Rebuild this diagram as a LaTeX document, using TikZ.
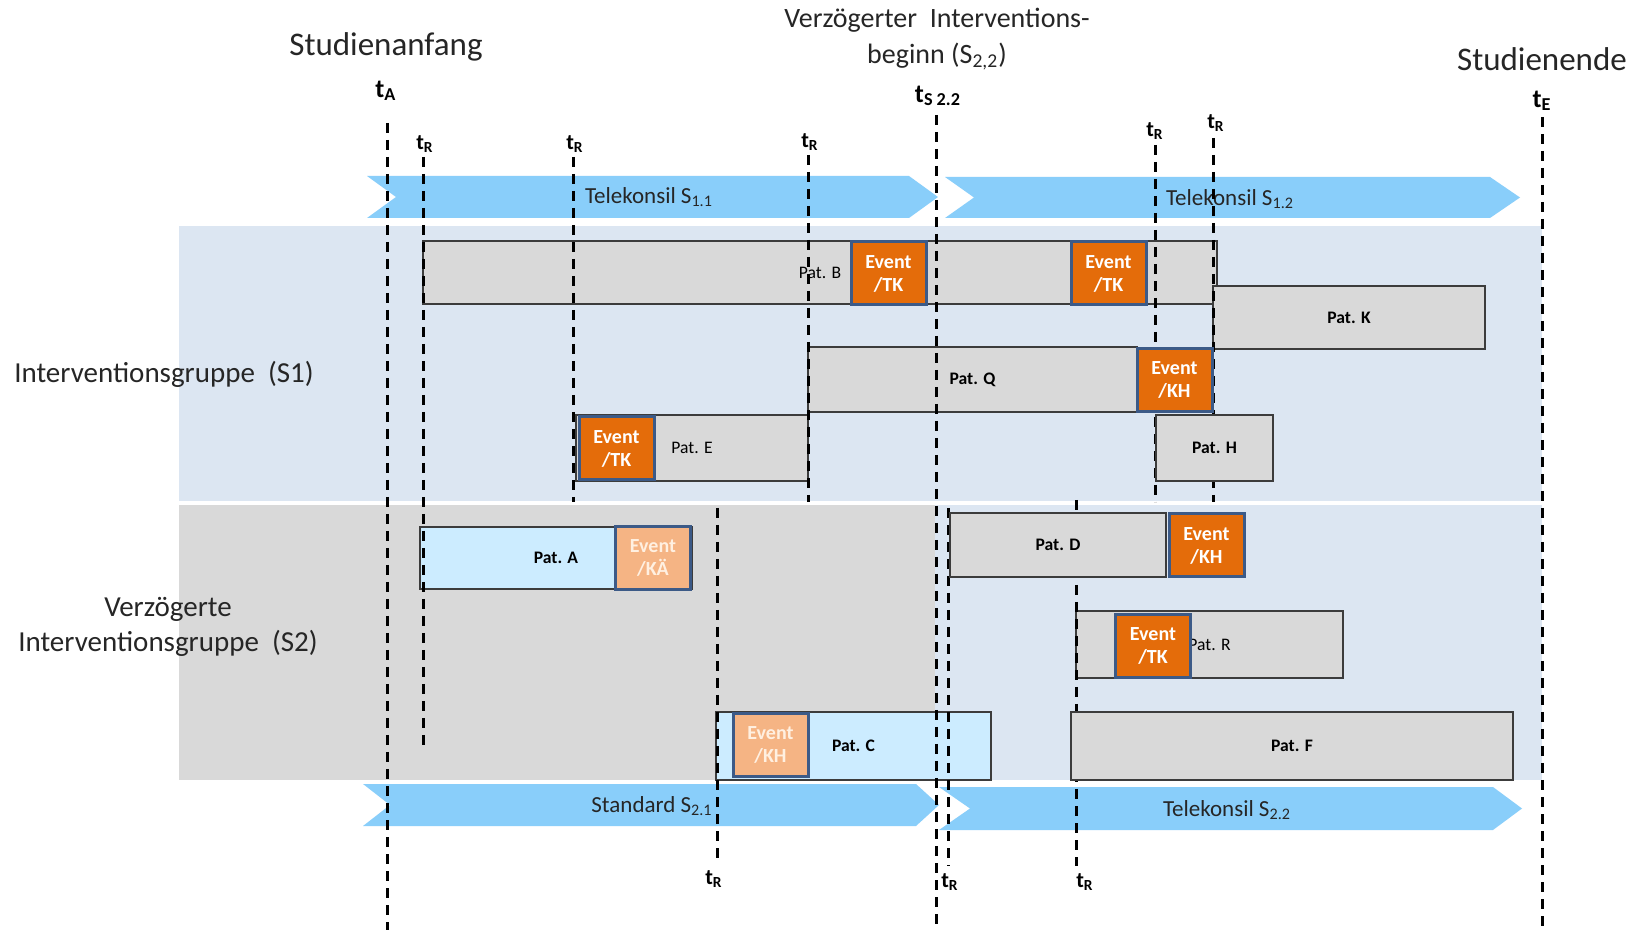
\documentclass[tikz,border=0pt]{standalone}
\usepackage{fontspec}
\setmainfont{Carlito}
\definecolor{bandblue}{RGB}{220,230,242}
\definecolor{bandgray}{RGB}{217,217,217}
\definecolor{chevblue}{RGB}{137,206,250}
\definecolor{patgray}{RGB}{217,217,217}
\definecolor{patblue}{RGB}{204,236,255}
\definecolor{patedge}{RGB}{60,60,60}
\definecolor{evtorange}{RGB}{228,108,10}
\definecolor{evtpale}{RGB}{245,180,132}
\definecolor{evtedge}{RGB}{60,90,135}
\definecolor{evttext}{RGB}{255,240,225}
\definecolor{inkdark}{RGB}{38,38,38}
\begin{document}
\begin{tikzpicture}[x=0.5pt,y=-0.5pt,
  tline/.style={line width=1.5pt, dash pattern=on 5pt off 3.5pt, black},
  chev/.style={fill=chevblue, draw=none},
  chevtext/.style={font=\fontsize{11.5}{13}\selectfont, text=inkdark, inner sep=0pt},
  pat/.style={draw=patedge, line width=0.8pt, fill=patgray, inner sep=0pt,
    font=\fontsize{8.8}{10}\selectfont\bfseries, text=black},
  patlight/.style={pat, fill=patblue},
  patreg/.style={pat, font=\fontsize{8.8}{10}\selectfont},
  evt/.style={draw=evtedge, line width=1.5pt, fill=evtorange, minimum width=37.5pt,
    minimum height=31.5pt, inner sep=0pt, align=center, text=white,
    font=\fontsize{10}{11.5}\selectfont\bfseries},
  evtlt/.style={evt, fill=evtpale, text=evttext},
  head/.style={font=\fontsize{16.5}{20}\selectfont, text=inkdark, inner sep=0pt},
  headsm/.style={font=\fontsize{14}{18}\selectfont, text=inkdark, inner sep=0pt, align=center},
  grouplab/.style={font=\fontsize{14.5}{17.5}\selectfont, text=inkdark, inner sep=0pt, align=center},
  tbig/.style={font=\fontsize{13}{15}\selectfont\bfseries, text=black, inner sep=0pt},
  tsmall/.style={font=\fontsize{11}{13}\selectfont\bfseries, text=black, inner sep=0pt}
]
\useasboundingbox (0,0) rectangle (1635,930);
\fill[white] (0,0) rectangle (1635,930);

% bands
\fill[bandblue] (179,226) rectangle (1542,501);
\fill[bandgray] (179,505) rectangle (935,780);
\fill[bandblue] (935,505) rectangle (1542,780);

% chevrons
\fill[chev] (367,176) -- (909,176) -- (938,197) -- (909,218) -- (367,218) -- (396,197) -- cycle;
\fill[chev] (945,177) -- (1490,177) -- (1520,197.5) -- (1490,218) -- (945,218) -- (974,197.5) -- cycle;
\fill[chev] (363,784) -- (916,784) -- (939,805) -- (916,826) -- (363,826) -- (390,805) -- cycle;
\fill[chev] (939,787) -- (1493,787) -- (1522,808.5) -- (1493,830) -- (939,830) -- (970,808.5) -- cycle;
\node[chevtext] (c11) at (649,197) {Telekonsil S\textsubscript{1.1}};
\node[chevtext] (c12) at (1230,199) {Telekonsil S\textsubscript{1.2}};
\node[chevtext] (c21) at (652,806) {Standard S\textsubscript{2.1}};
\node[chevtext] (c22) at (1227,810) {Telekonsil S\textsubscript{2.2}};

% headings
\node[head] (anf) at (386,47) {Studienanfang};
\node[head] (end) at (1542,59) {Studienende};
\node[headsm] (verz) at (937,39) {Verzögerter\ \ Interventions-\\beginn (S\textsubscript{2,2})};
\node[tbig] (tA) at (386,91) {t\textsubscript{A}};
\node[tbig] (tS) at (938,96) {t\textsubscript{S 2.2}};
\node[tbig] (tE) at (1542,101) {t\textsubscript{E}};

% group labels
\node[grouplab] (g1) at (164,374) {Interventionsgruppe\ \ (S1)};
\node[grouplab] (g2) at (168,627) {Verzögerte\\Interventionsgruppe\ \ (S2)};

% t_R labels
\node[tsmall] (r1) at (425,144) {t\textsubscript{R}};
\node[tsmall] (r2) at (575,144) {t\textsubscript{R}};
\node[tsmall] (r3) at (810,142) {t\textsubscript{R}};
\node[tsmall] (r4) at (1155,131) {t\textsubscript{R}};
\node[tsmall] (r5) at (1216,123) {t\textsubscript{R}};
\node[tsmall] (b1) at (714,879) {t\textsubscript{R}};
\node[tsmall] (b2) at (950,882) {t\textsubscript{R}};
\node[tsmall] (b3) at (1085,882) {t\textsubscript{R}};

% patient boxes drawn under the time lines
\node[patreg, minimum width=397pt, minimum height=31.5pt] (pB) at (820,272.5) {Pat. B};
\node[pat, minimum width=136pt, minimum height=31.5pt] (pK) at (1349,317.5) {Pat. K};
\node[pat, minimum width=164.5pt, minimum height=32.5pt] (pQ) at (972.5,379.5) {Pat. Q};
\node[patreg, minimum width=116pt, minimum height=33pt] (pE) at (692,448) {Pat. E};
\node[patlight, minimum width=136pt, minimum height=31pt] (pA) at (556,558) {Pat. A};
\node[patlight, minimum width=137.5pt, minimum height=34pt] (pC) at (853.5,746) {Pat. C};
\node[patreg, minimum width=133.5pt, minimum height=33.5pt] (pR) at (1209.5,644.5) {Pat. R};

% dashed time lines
\coordinate (tAa) at (387,123);   \coordinate (tAb) at (387,930);
\coordinate (tSa) at (936,115);   \coordinate (tSb) at (936,925);
\coordinate (tEa) at (1542,117);  \coordinate (tEb) at (1542,930);
\coordinate (r1a) at (423,157);   \coordinate (r1b) at (423,749);
\coordinate (r2a) at (573,157);   \coordinate (r2b) at (573,502);
\coordinate (r3a) at (808,155);   \coordinate (r3b) at (808,502);
\coordinate (r4a) at (1155,145);  \coordinate (r4b) at (1155,502);
\coordinate (r5a) at (1213,138);  \coordinate (r5b) at (1213,502);
\coordinate (b1a) at (717,508);   \coordinate (b1b) at (717,864);
\coordinate (b2a) at (948,508);   \coordinate (b2b) at (948,866);
\coordinate (b3a) at (1076,500);  \coordinate (b3b) at (1076,866);
\draw[tline] (tAa) -- (tAb);
\draw[tline] (tSa) -- (tSb);
\draw[tline] (tEa) -- (tEb);
\draw[tline] (r1a) -- (r1b);
\draw[tline] (r2a) -- (r2b);
\draw[tline] (r3a) -- (r3b);
\draw[tline] (r4a) -- (r4b);
\draw[tline] (r5a) -- (r5b);
\draw[tline] (b1a) -- (b1b);
\draw[tline] (b2a) -- (b2b);
\draw[tline] (b3a) -- (b3b);

% patient boxes that cover the time lines
\node[pat, minimum width=58.5pt, minimum height=33pt] (pH) at (1214.5,448) {Pat. H};
\node[pat, minimum width=108pt, minimum height=32pt] (pD) at (1058,545) {Pat. D};
\node[pat, minimum width=221pt, minimum height=34pt] (pF) at (1292,746) {Pat. F};

% events
\node[evt] (eB1) at (888.5,273.5) {Event\\/TK};
\node[evt] (eB2) at (1108.5,273.5) {Event\\/TK};
\node[evt] (eQ) at (1174.5,380) {Event\\/KH};
\node[evt] (eE) at (616.5,448.5) {Event\\/TK};
\node[evtlt] (eA) at (653,558) {Event\\/KÄ};
\node[evtlt] (eC) at (770.5,745) {Event\\/KH};
\node[evt] (eD) at (1206.5,545.5) {Event\\/KH};
\node[evt] (eR) at (1153,646) {Event\\/TK};
\end{tikzpicture}
\end{document}
